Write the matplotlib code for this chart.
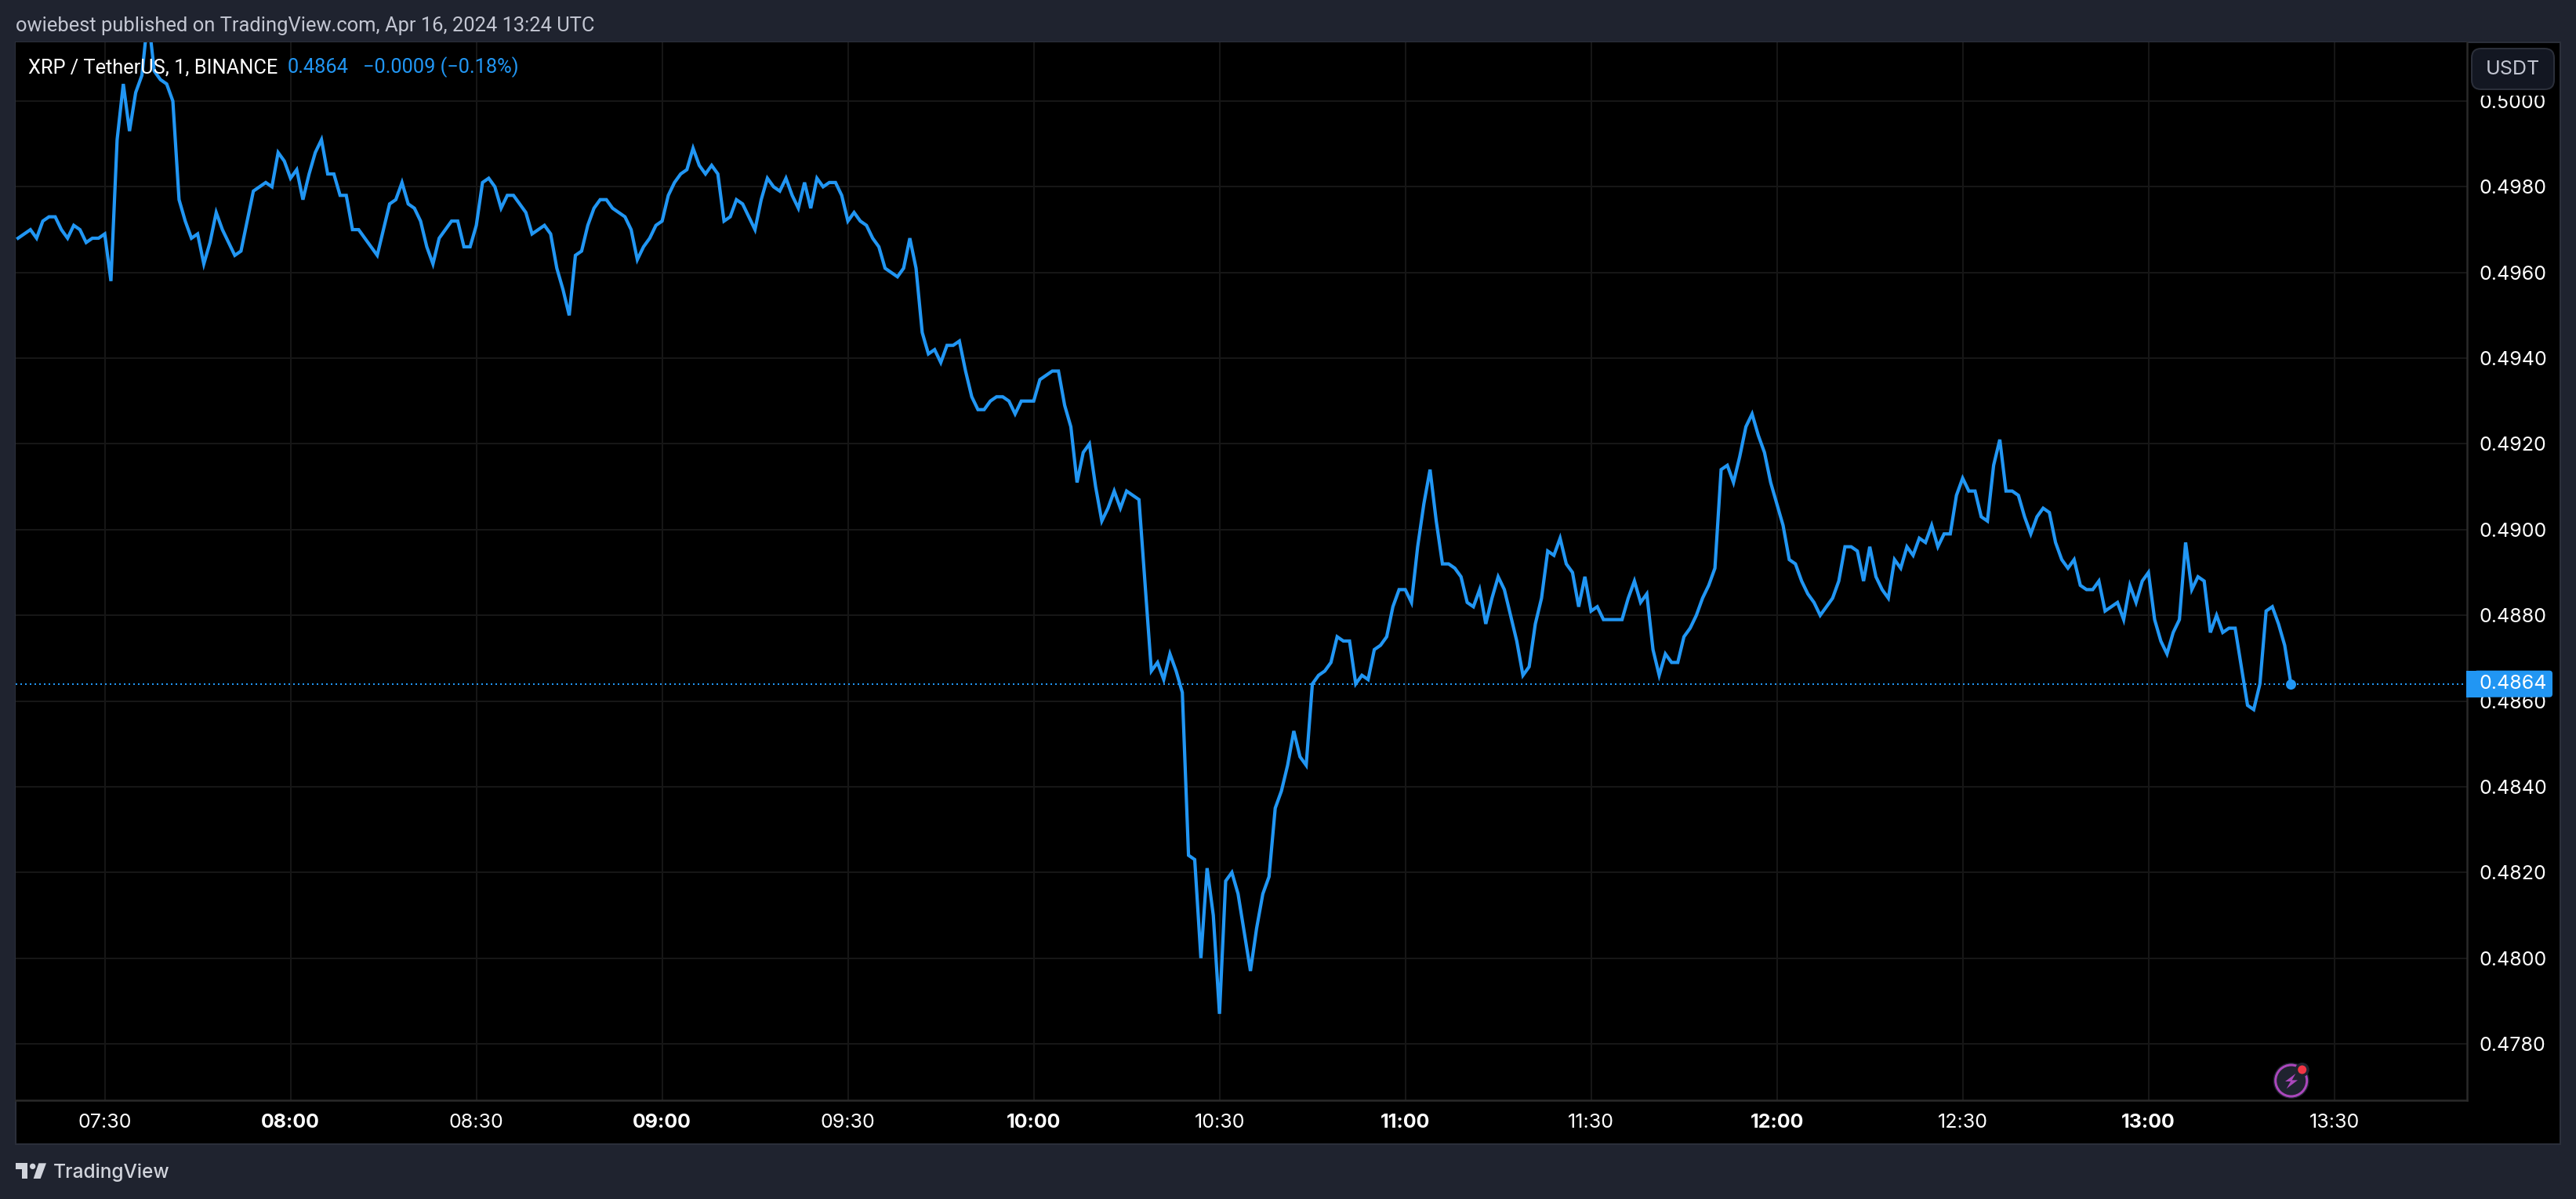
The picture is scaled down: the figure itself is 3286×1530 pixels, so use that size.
import numpy as np
import matplotlib
matplotlib.use("Agg")
import matplotlib.pyplot as plt
from matplotlib.patches import Rectangle, Circle, Polygon, FancyBboxPatch

plt.rcParams['font.family'] = ['Inter', 'DejaVu Sans']

# 1 minute closes, one list per half hour block
closes_0716 = [.4968, .4969, .4970, .4968, .4972, .4973, .4973, .4970, .4968, .4971, .4970, .4967, .4968, .4968, .4969]
closes_0731 = [.4958, .4991, .5004, .4993, .5002, .5006, .5020, .5007, .5005, .5004, .5000, .4977, .4972, .4968, .4969,
               .4962, .4967, .4974, .4970, .4967, .4964, .4965, .4972, .4979, .4980, .4981, .4980, .4988, .4986, .4982]
closes_0801 = [.4984, .4977, .4983, .4988, .4991, .4983, .4983, .4978, .4978, .4970, .4970, .4968, .4966, .4964, .4970,
               .4976, .4977, .4981, .4976, .4975, .4972, .4966, .4962, .4968, .4970, .4972, .4972, .4966, .4966, .4971]
closes_0831 = [.4981, .4982, .4980, .4975, .4978, .4978, .4976, .4974, .4969, .4970, .4971, .4969, .4961, .4956, .4950,
               .4964, .4965, .4971, .4975, .4977, .4977, .4975, .4974, .4973, .4970, .4963, .4966, .4968, .4971, .4972]
closes_0901 = [.4978, .4981, .4983, .4984, .4989, .4985, .4983, .4985, .4983, .4972, .4973, .4977, .4976, .4973, .4970,
               .4977, .4982, .4980, .4979, .4982, .4978, .4975, .4981, .4975, .4982, .4980, .4981, .4981, .4978, .4972]
closes_0931 = [.4974, .4972, .4971, .4968, .4966, .4961, .4960, .4959, .4961, .4968, .4961, .4946, .4941, .4942, .4939,
               .4943, .4943, .4944, .4937, .4931, .4928, .4928, .4930, .4931, .4931, .4930, .4927, .4930, .4930, .4930]
closes_1001 = [.4935, .4936, .4937, .4937, .4929, .4924, .4911, .4918, .4920, .4910, .4902, .4905, .4909, .4905, .4909,
               .4908, .4907, .4887, .4867, .4869, .4865, .4871, .4867, .4862, .4824, .4823, .4800, .4821, .4810, .4787]
closes_1031 = [.4818, .4820, .4815, .4806, .4797, .4807, .4815, .4819, .4835, .4839, .4845, .4853, .4847, .4845, .4864,
               .4866, .4867, .4869, .4875, .4874, .4874, .4864, .4866, .4865, .4872, .4873, .4875, .4882, .4886, .4886]
closes_1101 = [.4883, .4896, .4906, .4914, .4902, .4892, .4892, .4891, .4889, .4883, .4882, .4886, .4878, .4884, .4889,
               .4886, .4880, .4874, .4866, .4868, .4878, .4884, .4895, .4894, .4898, .4892, .4890, .4882, .4889, .4881]
closes_1131 = [.4882, .4879, .4879, .4879, .4879, .4884, .4888, .4883, .4885, .4872, .4866, .4871, .4869, .4869, .4875,
               .4877, .4880, .4884, .4887, .4891, .4914, .4915, .4911, .4917, .4924, .4927, .4922, .4918, .4911, .4906]
closes_1201 = [.4901, .4893, .4892, .4888, .4885, .4883, .4880, .4882, .4884, .4888, .4896, .4896, .4895, .4888, .4896,
               .4889, .4886, .4884, .4893, .4891, .4896, .4894, .4898, .4897, .4901, .4896, .4899, .4899, .4908, .4912]
closes_1231 = [.4909, .4909, .4903, .4902, .4915, .4921, .4909, .4909, .4908, .4903, .4899, .4903, .4905, .4904, .4897,
               .4893, .4891, .4893, .4887, .4886, .4886, .4888, .4881, .4882, .4883, .4879, .4887, .4883, .4888, .4890]
closes_1301 = [.4879, .4874, .4871, .4876, .4879, .4897, .4886, .4889, .4888, .4876, .4880, .4876, .4877, .4877, .4868,
               .4859, .4858, .4864, .4881, .4882, .4878, .4873, .4864]

closes = (closes_0716 + closes_0731 + closes_0801 + closes_0831 + closes_0901 + closes_0931 + closes_1001
          + closes_1031 + closes_1101 + closes_1131 + closes_1201 + closes_1231 + closes_1301)
start_minute = 7 * 60 + 16
minutes = start_minute + np.arange(len(closes))
assert minutes[-1] == 13 * 60 + 23

price_ticks = [.4780, .4800, .4820, .4840, .4860, .4880, .4900, .4920, .4940, .4960, .4980, .5000]
time_ticks = [450, 480, 510, 540, 570, 600, 630, 660, 690, 720, 750, 780, 810]
time_labels = ['07:30', '08:00', '08:30', '09:00', '09:30', '10:00', '10:30', '11:00', '11:30', '12:00', '12:30', '13:00', '13:30']
last_price = '0.4864'
legend_name = 'XRP / TetherUS, 1, BINANCE'
legend_change = '\u22120.0009 (\u22120.18%)'
published = 'owiebest published on TradingView.com, Apr 16, 2024 13:24 UTC'

W, H = 3286, 1530
DPI = 200
BG = '#1f232f'
BLUE = '#2196f3'
GRID = '#161616'
BORDER = '#2b2f3a'
DIVIDER = '#2a2a2a'
HEAD_FONT = ['Roboto', 'DejaVu Sans']


def pt(px):
    # pixels in the picture to points
    return px * 72 / DPI


fig = plt.figure(figsize=(W / DPI, H / DPI), dpi=DPI, facecolor=BG)

# black panel behind everything, pixel coordinates
back = fig.add_axes([0, 0, 1, 1], zorder=0)
back.set_xlim(0, W)
back.set_ylim(H, 0)
back.axis('off')
back.add_patch(Rectangle((20, 54), 3246, 1406, facecolor='black', edgecolor=BORDER, linewidth=pt(2)))

# main chart
left, right, top, bottom = 20, 3147, 54, 1404
ax = fig.add_axes([left / W, 1 - bottom / H, (right - left) / W, (bottom - top) / H], zorder=1)
ax.set_facecolor('black')
px_per_min = 7.9
px_per_price = (1332 - 129) / 0.022
ax.set_xlim(450 - (133.6 - left) / px_per_min, 450 + (right - 133.6) / px_per_min)
ax.set_ylim(.4780 - (bottom - 1332) / px_per_price, .5000 + (129 - top) / px_per_price)
for s in ['top', 'left']:
    ax.spines[s].set_visible(False)
for s in ['right', 'bottom']:
    ax.spines[s].set_color(DIVIDER)
    ax.spines[s].set_linewidth(pt(2.5))
ax.grid(True, color=GRID, linewidth=pt(2))
ax.set_axisbelow(True)

ax.plot(minutes, closes, color=BLUE, linewidth=pt(4.2), solid_joinstyle='miter', zorder=3)
ax.axhline(closes[-1], color=BLUE, linewidth=pt(2), linestyle=(0, (1, 2)), zorder=2)
ax.plot(minutes[-1], closes[-1], 'o', color=BLUE, markersize=pt(13), markeredgewidth=0, zorder=4)

ax.set_xticks(time_ticks)
ax.set_xticklabels(time_labels)
ax.yaxis.tick_right()
ax.set_yticks(price_ticks)
ax.set_yticklabels(['%.4f' % p for p in price_ticks])
ax.tick_params(axis='x', length=0, pad=pt(17), labelsize=pt(25), labelcolor='white')
ax.tick_params(axis='y', length=0, pad=pt(16), labelsize=pt(25), labelcolor='white')
for lab, t in zip(ax.get_xticklabels(), time_ticks):
    if t % 60 == 0:
        lab.set_fontweight('bold')

# overlay for labels and widgets, pixel coordinates
over = fig.add_axes([0, 0, 1, 1], zorder=2)
over.set_xlim(0, W)
over.set_ylim(H, 0)
over.axis('off')
over.patch.set_alpha(0)

over.text(20, 33, published, color='#c3c6d2', fontsize=pt(25.5), family=HEAD_FONT, va='center', ha='left')
over.text(36, 86, legend_name, color='white', fontsize=pt(25.4), family=HEAD_FONT, va='center', ha='left')
over.text(367, 86, last_price, color=BLUE, fontsize=pt(25.4), family=HEAD_FONT, va='center', ha='left')
over.text(463, 86, legend_change, color=BLUE, fontsize=pt(25.4), family=HEAD_FONT, va='center', ha='left')

# currency button, hides the top of the 0.5000 label
over.add_patch(Rectangle((3150, 56), 114, 66, facecolor='black', edgecolor='none'))
over.add_patch(FancyBboxPatch((3153 + 12, 62 + 12), 105 - 24, 52 - 24, boxstyle='round,pad=12,rounding_size=12',
                              facecolor='#131722', edgecolor=BORDER, linewidth=pt(2), mutation_aspect=1))
over.text(3205.5, 88, 'USDT', color='#c3c6d2', fontsize=pt(25), va='center', ha='center')

# last price label
y_last = 129 + (.5000 - closes[-1]) * px_per_price
over.add_patch(Rectangle((3146, y_last - 17), 20, 34, facecolor=BLUE, edgecolor='none'))
over.add_patch(FancyBboxPatch((3160, y_last - 13), 92, 26, boxstyle='round,pad=4,rounding_size=4',
                              facecolor=BLUE, edgecolor='none'))
over.text(3163, y_last, last_price, color='white', fontsize=pt(25), va='center', ha='left')

# lightning badge
over.add_patch(Circle((2922.7, 1379), 23, facecolor=BG, edgecolor='none'))
over.add_patch(Circle((2922.7, 1379), 20, facecolor=BG, edgecolor='#ab47bc', linewidth=pt(3)))
bolt = [(385, 210), (345, 240), (366, 240), (350, 268), (393, 235), (371, 235)]
over.add_patch(Polygon([(2800 + a / 3, 1300 + b / 3) for a, b in bolt], facecolor='#ab47bc', edgecolor='none'))
over.add_patch(Circle((2936.7, 1365), 9, facecolor=BG, edgecolor='none'))
over.add_patch(Circle((2936.7, 1365), 5.5, facecolor='#f23645', edgecolor='none'))

# TradingView logo
logo_t = [(60, 313), (106, 313), (106, 372), (83, 372), (83, 335), (60, 335)]
logo_s = [(148, 313), (177, 313), (155, 372), (128, 372)]
for shape in [logo_t, logo_s]:
    over.add_patch(Polygon([(a / 3, 1380 + b / 3) for a, b in shape], facecolor='#d1d4dc', edgecolor='none'))
over.add_patch(Circle((125 / 3, 1380 + 325 / 3), 11 / 3, facecolor='#d1d4dc', edgecolor='none'))
over.text(68, 1496, 'TradingView', color='#d1d4dc', fontsize=pt(24.5), va='center', ha='left', fontweight='medium')

fig.savefig('out.png', dpi=DPI, facecolor=BG)
